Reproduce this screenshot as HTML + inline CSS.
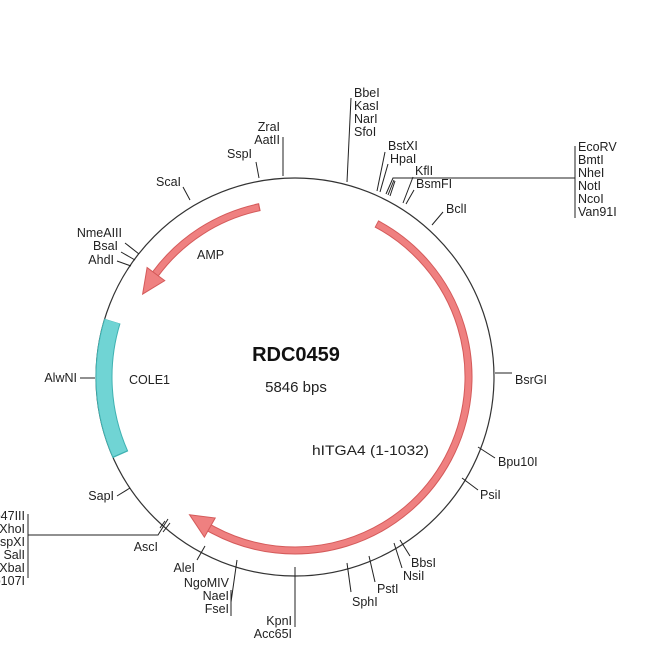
<!DOCTYPE html>
<html><head><meta charset="utf-8"><style>
html,body{margin:0;padding:0;background:#fff;}
svg{display:block;font-family:"Liberation Sans",Arial,sans-serif;}
text{font-size:12.5px;fill:#222;}
</style></head><body>
<svg width="650" height="650" viewBox="0 0 650 650" xmlns="http://www.w3.org/2000/svg">
<circle cx="295" cy="377" r="199" fill="none" stroke="#333" stroke-width="1.2"/>
<circle cx="295" cy="377" r="191" fill="none" stroke="#3fb2b2" stroke-width="17" stroke-dasharray="136.7 2000" transform="rotate(156 295 377)"/>
<circle cx="295" cy="377" r="191" fill="none" stroke="#70d4d4" stroke-width="15" stroke-dasharray="135 2000" transform="rotate(156.4 295 377)"/>
<circle cx="295" cy="377" r="173.5" fill="none" stroke="#d45a5a" stroke-width="8" stroke-dasharray="128.1 2000" transform="rotate(216 295 377)"/>
<circle cx="295" cy="377" r="173.5" fill="none" stroke="#ef8080" stroke-width="6" stroke-dasharray="126 2000" transform="rotate(216.3 295 377)"/>
<polygon points="295,215 295,193 271,205.2" fill="#ef8080" stroke="#d45a5a" stroke-width="1" transform="rotate(306.5 295 377)"/>
<circle cx="295" cy="377" r="173.5" fill="none" stroke="#d45a5a" stroke-width="8" stroke-dasharray="551 2000" transform="rotate(-62 295 377)"/>
<circle cx="295" cy="377" r="173.5" fill="none" stroke="#ef8080" stroke-width="6" stroke-dasharray="549 2000" transform="rotate(-61.7 295 377)"/>
<polygon points="295,215 295,193 319,205.2" fill="#ef8080" stroke="#d45a5a" stroke-width="1" transform="rotate(209.5 295 377)"/>

<g stroke="#222" stroke-width="1" fill="none">
<line x1="259" y1="178" x2="256" y2="162"/>
<line x1="283" y1="176" x2="283" y2="137"/>
<line x1="347" y1="182" x2="351" y2="98"/>
<line x1="377" y1="191" x2="385" y2="152"/>
<line x1="380" y1="192" x2="388" y2="164"/>
<polyline points="386,194 393,178 575,178"/>
<line x1="388" y1="195" x2="394" y2="180"/>
<line x1="390" y1="196" x2="395" y2="181"/>
<line x1="575" y1="146" x2="575" y2="218"/>
<line x1="403" y1="203" x2="413" y2="177"/>
<line x1="406" y1="204" x2="414" y2="190"/>
<line x1="432" y1="225" x2="443" y2="212"/>
<line x1="190" y1="200" x2="183" y2="187"/>
<line x1="139" y1="254" x2="125" y2="243"/>
<line x1="135" y1="260" x2="121" y2="252"/>
<line x1="131" y1="266" x2="117" y2="261"/>
<line x1="95" y1="378" x2="80" y2="378"/>
<line x1="130" y1="488" x2="117" y2="496"/>
<polyline points="168,519 158,535 28,535"/>
<line x1="165" y1="521" x2="160" y2="528"/>
<line x1="170" y1="523" x2="163" y2="532"/>
<line x1="28" y1="514" x2="28" y2="578"/>
<line x1="205" y1="546" x2="197" y2="560"/>
<line x1="237" y1="560" x2="231" y2="602"/>
<line x1="231" y1="590" x2="231" y2="616"/>
<line x1="295" y1="567" x2="295" y2="627"/>
<line x1="347" y1="563" x2="351" y2="592"/>
<line x1="369" y1="556" x2="375" y2="582"/>
<line x1="394" y1="543" x2="402" y2="568"/>
<line x1="400" y1="540" x2="410" y2="556"/>
<line x1="462" y1="478" x2="478" y2="490"/>
<line x1="478" y1="447" x2="495" y2="458"/>
<line x1="495" y1="373" x2="512" y2="373"/>
</g>

<text x="354" y="97">BbeI</text>
<text x="354" y="110">KasI</text>
<text x="354" y="123">NarI</text>
<text x="354" y="136">SfoI</text>
<text x="280" y="131" text-anchor="end">ZraI</text>
<text x="280" y="144" text-anchor="end">AatII</text>
<text x="252" y="158" text-anchor="end">SspI</text>
<text x="388" y="150">BstXI</text>
<text x="390" y="163">HpaI</text>
<text x="415" y="175">KflI</text>
<text x="416" y="188">BsmFI</text>
<text x="446" y="213">BclI</text>
<text x="578" y="151">EcoRV</text>
<text x="578" y="164">BmtI</text>
<text x="578" y="177">NheI</text>
<text x="578" y="190">NotI</text>
<text x="578" y="203">NcoI</text>
<text x="578" y="216">Van91I</text>
<text x="181" y="186" text-anchor="end">ScaI</text>
<text x="122" y="237" text-anchor="end">NmeAIII</text>
<text x="118" y="250" text-anchor="end">BsaI</text>
<text x="114" y="264" text-anchor="end">AhdI</text>
<text x="77" y="382" text-anchor="end">AlwNI</text>
<text x="114" y="500" text-anchor="end">SapI</text>
<text x="25" y="520" text-anchor="end">Eco47III</text>
<text x="25" y="533" text-anchor="end">XhoI</text>
<text x="25" y="546" text-anchor="end">PspXI</text>
<text x="25" y="559" text-anchor="end">SalI</text>
<text x="25" y="572" text-anchor="end">XbaI</text>
<text x="25" y="585" text-anchor="end">Bsp107I</text>
<text x="158" y="551" text-anchor="end">AscI</text>
<text x="195" y="572" text-anchor="end">AleI</text>
<text x="229" y="587" text-anchor="end">NgoMIV</text>
<text x="229" y="600" text-anchor="end">NaeI</text>
<text x="229" y="613" text-anchor="end">FseI</text>
<text x="292" y="625" text-anchor="end">KpnI</text>
<text x="292" y="638" text-anchor="end">Acc65I</text>
<text x="352" y="606">SphI</text>
<text x="377" y="593">PstI</text>
<text x="403" y="580">NsiI</text>
<text x="411" y="567">BbsI</text>
<text x="480" y="499">PsiI</text>
<text x="498" y="466">Bpu10I</text>
<text x="515" y="384">BsrGI</text>

<text x="197" y="259">AMP</text>
<text x="129" y="384">COLE1</text>
<text x="312" y="455" style="font-size:13.5px" textLength="117" lengthAdjust="spacingAndGlyphs">hITGA4 (1-1032)</text>
<text x="296" y="361" text-anchor="middle" style="font-size:20px;font-weight:bold;fill:#111">RDC0459</text>
<text x="296" y="392" text-anchor="middle" style="font-size:15px">5846 bps</text>
</svg>
</body></html>
